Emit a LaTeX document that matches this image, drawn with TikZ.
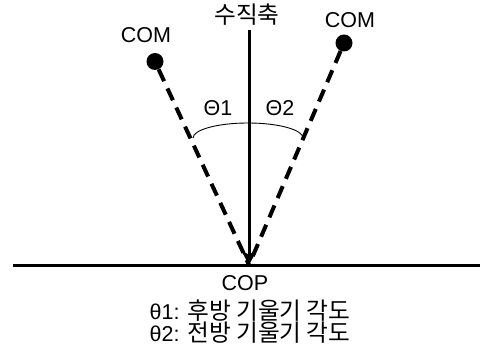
\documentclass[tikz,border=0pt]{standalone}
\usepackage{fontspec}
\setmainfont{Liberation Sans}
\newfontfamily\kr{Noto Sans CJK KR}[Scale=1.1]
\usetikzlibrary{arrows.meta}
\begin{document}
\begin{tikzpicture}[x=1pt,y=-1pt,
  lbl/.style={inner sep=0pt,font=\fontsize{21.5}{24}\selectfont},
  dot/.style={circle,fill=black,inner sep=0pt,minimum size=17pt},
  tiltline/.style={line width=4pt,dash pattern=on 13pt off 8pt},
  axisline/.style={line width=3pt,-{Stealth[length=15pt,width=16pt]}},
  groundline/.style={line width=3pt}]
\useasboundingbox (0,0) rectangle (480,358);
% ground
\coordinate (gL) at (13,265.5);
\coordinate (gR) at (480,265.5);
\draw[groundline] (gL) -- (gR);
% COP and vertical axis
\coordinate (cop) at (249,265);
\coordinate (top) at (249,30);
% COM dots
\node[dot] (comL) at (155,61.5) {};
\node[dot] (comR) at (344,43) {};
\draw[tiltline] (comL) -- (cop);
\draw[tiltline] (comR) -- (cop);
\draw[axisline] (top) -- (cop);
% angle arc
\coordinate (arcL) at (193,138);
\draw[line width=0.9pt] (arcL) arc[start angle=180,end angle=0,x radius=55pt,y radius=15pt];
% labels
\node[lbl] (axis) at (247,15) {\kr 수직축};
\node[lbl] (lcom) at (146,35.5) {COM};
\node[lbl] (rcom) at (350,20.5) {COM};
\node[lbl] (t1) at (218,108.5) {Θ1};
\node[lbl] (t2) at (280,108.5) {Θ2};
\node[lbl] (coplbl) at (245,283) {COP};
\node[lbl,align=center,font=\fontsize{21.5}{18.5}\selectfont] (leg) at (250,321.5)
  {θ1: {\kr 후방 기울기 각도}\\θ2: {\kr 전방 기울기 각도}};
\end{tikzpicture}
\end{document}
